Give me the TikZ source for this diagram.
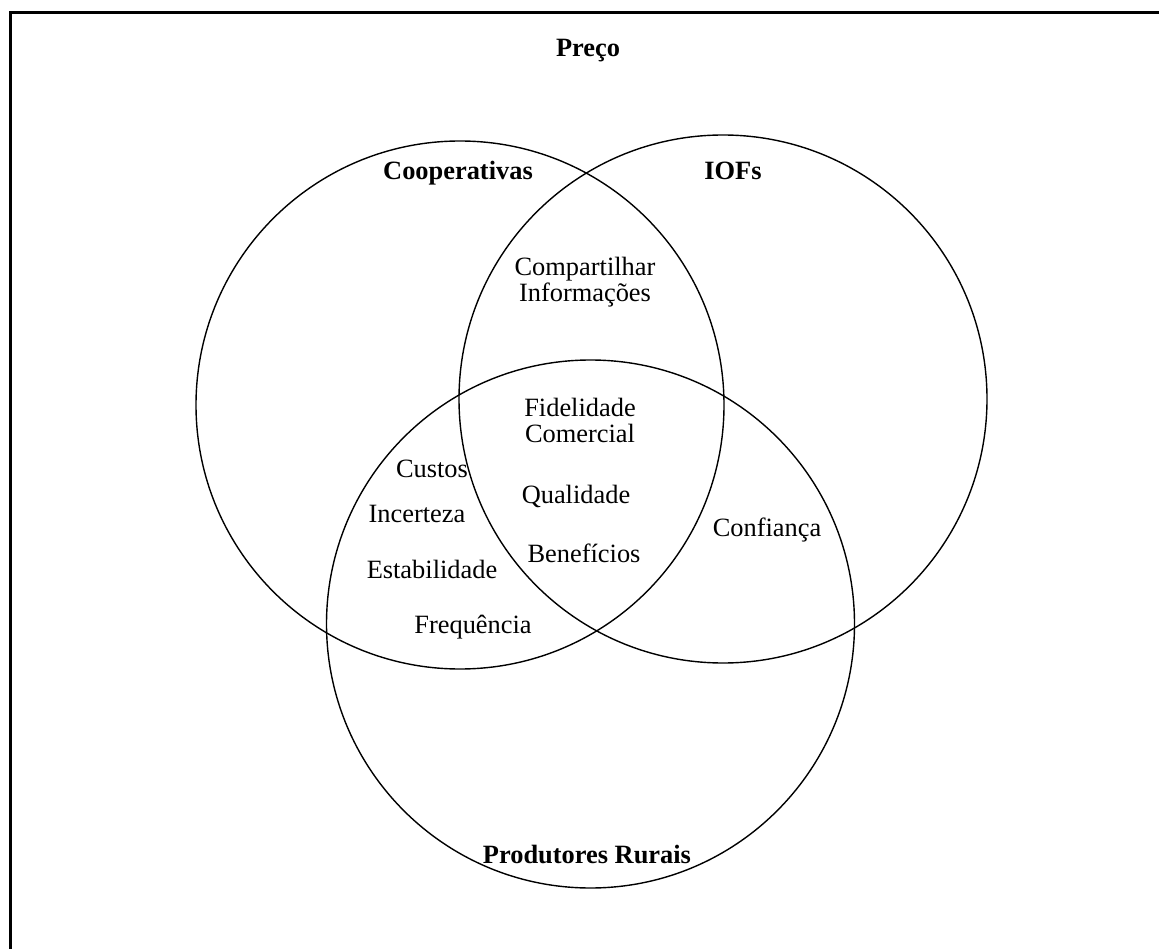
\documentclass[tikz,border=0pt]{standalone}
\usepackage{fontspec}
\setmainfont{Liberation Serif}
\begin{document}
\begin{tikzpicture}[x=1pt,y=-1pt,
  setcircle/.style={draw=black,line width=1.4pt,fill=none},
  lbl/.style={inner sep=0pt,anchor=base,font=\fontsize{26.4}{30}\selectfont},
  title/.style={lbl,font=\fontsize{26.4}{30}\selectfont\bfseries},
  frameline/.style={line width=3pt}]
\useasboundingbox (0,0) rectangle (1159,949);
% frame (top and left edges)
\coordinate (fbl) at (10,949);
\coordinate (ftl) at (10,13);
\coordinate (ftr) at (1159,13);
\draw[frameline] (fbl) -- (ftl) -- (ftr);
% the three sets
\node[setcircle,circle,minimum size=528pt,inner sep=0pt] (coop) at (460,405) {};
\node[setcircle,circle,minimum size=528pt,inner sep=0pt] (iofs) at (723,399) {};
\node[setcircle,circle,minimum size=528pt,inner sep=0pt] (prod) at (590.5,624) {};
% set titles
\node[title] (preco) at (588,57) {Preço};
\node[title] (tcoop) at (458,180) {Cooperativas};
\node[title] (tiofs) at (733,180) {IOFs};
\node[title] (tprod) at (587,863) {Produtores Rurais};
% region labels
\node[lbl] (comp) at (585,276) {Compartilhar};
\node[lbl] (info) at (585,302) {Informações};
\node[lbl] (fid) at (580,416) {Fidelidade};
\node[lbl] (com) at (580,442) {Comercial};
\node[lbl] (qual) at (576,503) {Qualidade};
\node[lbl] (ben) at (584,562) {Benefícios};
\node[lbl] (cust) at (432,477) {Custos};
\node[lbl] (inc) at (417,522) {Incerteza};
\node[lbl] (est) at (432,578) {Estabilidade};
\node[lbl] (freq) at (473,633) {Frequência};
\node[lbl] (conf) at (767,536) {Confiança};
\end{tikzpicture}
\end{document}
